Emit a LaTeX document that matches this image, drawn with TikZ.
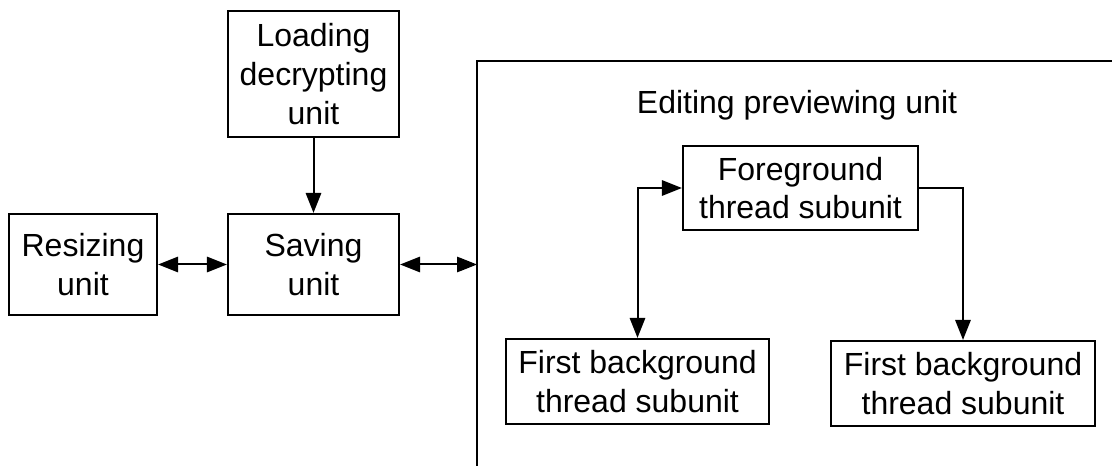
\documentclass[tikz,border=0pt]{standalone}
\usepackage{fontspec}
\setmainfont{Liberation Sans}
\usetikzlibrary{arrows.meta}
\begin{document}
\begin{tikzpicture}[x=0.75pt,y=-0.75pt,
  unitbox/.style 2 args={draw=black, line width=1.6pt, inner sep=0pt, align=center,
    font=\fontsize{24}{29}\selectfont, minimum width=#1*0.75pt, minimum height=#2*0.75pt},
  conn/.style={line width=1.5pt, draw=black},
  tip/.style={-{Triangle[length=15pt,width=11.5pt]}},
  twotip/.style={{Triangle[length=15pt,width=11.5pt]}-{Triangle[length=15pt,width=11.5pt]}}]
\useasboundingbox (0,0) rectangle (1112,466);
\node[unitbox={171}{126}] (load) at (313.5,74) {Loading\\decrypting\\unit};
\node[unitbox={148}{101}] (resize) at (83,264.5) {Resizing\\unit};
\node[unitbox={171}{101}] (save) at (313.5,264.5) {Saving\\unit};
\coordinate (edtop) at (1112,61);
\coordinate (edcorner) at (477,61);
\coordinate (edbottom) at (477,466);
\coordinate (edin) at (477,264.5);
\draw[line width=1.6pt] (edtop) -- (edcorner) -- (edbottom);
\node[font=\fontsize{24}{29}\selectfont, inner sep=0pt] (title) at (797,105) {Editing previewing unit};
\node[unitbox={235}{84}] (fg) at (800.5,188) {Foreground\\thread subunit};
\node[unitbox={263}{85}] (bg1) at (637.5,381.5) {First background\\thread subunit};
\node[unitbox={264}{85}] (bg2) at (963,383.5) {First background\\thread subunit};
\draw[conn,tip] (load) -- (save);
\draw[conn,twotip] (resize) -- (save);
\draw[conn,twotip] (save.east) -- (edin);
\draw[conn,twotip] (fg.west) -| (bg1.north);
\draw[conn,tip] (fg.east) -| (bg2.north);
\end{tikzpicture}
\end{document}
